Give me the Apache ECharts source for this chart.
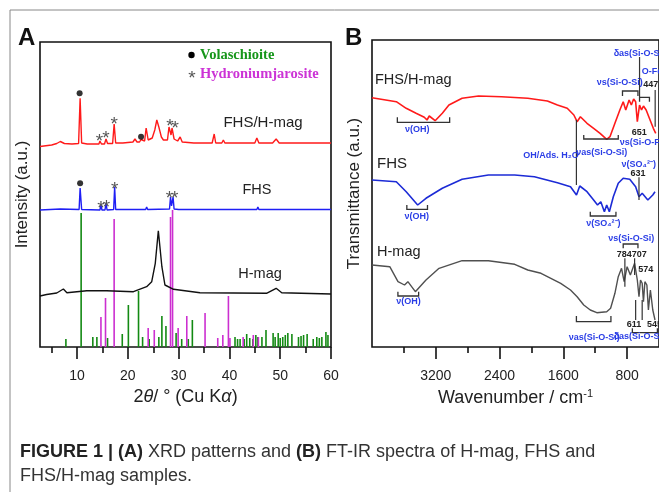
<!DOCTYPE html>
<html>
<head>
<meta charset="utf-8">
<script src="https://cdn.jsdelivr.net/npm/echarts@6/dist/echarts.min.js"></script>
<style>
  html, body { margin: 0; padding: 0; background: #fff; }
  #chart { width: 659px; height: 492px; }
</style>
</head>
<body>
<div id="chart"></div>
<script>
// ---- panel A : XRD (2theta, intensity a.u. incl. stacking offset) ----
var xrdFhsHmag = [[2.7,200.5],[5,202],[6,203.5],[6.7,205.5],[7.5,203.5],[9,203],[10.3,203.5],[10.6,248.7],[10.9,204],[12,203],
  [14.3,203],[14.5,206],[14.8,203],[15.4,203],[15.7,208],[16,203.5],[17,203.5],[17.3,223],[17.6,204],[19,204],[21,205],[21.4,208],
  [21.8,205],[22.3,205],[22.6,207.5],[22.9,205.5],[23.3,206],[23.6,219],[24,207],[24.8,209],[25.3,217],[25.7,227],[26.1,220],
  [26.6,210],[27,207],[27.8,207],[28.1,220],[28.3,221],[28.5,212],[28.7,219],[28.9,220],[29.1,208],[29.8,206],[30.3,210],[30.7,205],
  [33,204],[36.6,204],[37,213],[37.3,204],[38.5,204],[38.8,207],[39.1,204],[45,204],[45.4,209],[45.8,204],[48.5,204],[49.2,208],
  [49.8,204],[55,204],[60,204]];
var xrdFhs = [[2.7,137],[6.7,138],[10.4,137.5],[10.6,159],[10.9,137.5],[14.5,137],[14.7,142],[14.9,137],[15.5,137],[15.7,144],
  [15.9,137],[17.2,137.5],[17.4,160],[17.6,137.5],[23.5,137.5],[23.7,140],[23.9,137.5],[28.2,138],[28.4,150],[28.6,141],[28.9,150],
  [29.1,138],[30,137.5],[45.4,137.5],[45.6,140],[45.8,137.5],[49.5,137.5],[49.6,139],[49.7,137.5],[60,137.5]];
var xrdHmag = [[2.7,51],[4,52.5],[6,54],[7.3,58],[8,54.3],[11.9,56.3],[15.8,56.3],[21.1,55.3],[23.7,60.3],[24.7,65.3],[25.4,83.7],
  [26,116.3],[26.7,80.3],[27.3,62],[29,57.7],[34.2,54.3],[47.3,53.7],[49.2,58.7],[50.3,54.3],[60,53]];
var volaschioiteSticks = [[7.8,8],[10.8,134],[13.1,10],[13.9,10],[16,9],[18.9,13],[20.1,42],[22.1,56],[22.9,10],[24.2,8],[26.1,10],
  [26.7,31],[27.5,21],[29.5,14],[30.6,8],[31.9,8],[32.7,27],[41.1,10],[41.6,8],[42.1,8],[42.9,8],[43.4,13],[44,9],[44.6,8],[45.2,12],
  [45.6,10],[46.4,10],[47.2,17],[48.6,14],[49,10],[49.6,14],[50,9],[50.5,10],[51,12],[51.5,14],[52.3,13],[53.6,10],[54.1,11],
  [54.6,12],[55.3,13],[56.5,8],[57.2,10],[57.7,9],[58.2,10],[59,15],[59.4,12]];
var jarositeSticks = [[14.7,30],[15.6,49],[17.3,128],[24,19],[25.2,17],[28.4,130],[28.8,137],[29.9,19],[31.6,31],[35.2,34],
  [37.7,9],[38.7,12],[39.8,51],[40.1,9],[42.7,10],[44.7,12],[45.7,10]];
var dotMarks = [[10.5,253.7],[22.6,210.3],[10.6,163.7]];
var starMarks = [[14.4,210.3],[15.7,213],[17.3,227],[28.3,225.3],[29.3,223.7],[14.7,143.7],[15.8,144.7],[17.4,162],[28.2,153],[29.2,153]];
var xrdMajor = [10, 20, 30, 40, 50, 60];
var xrdMinor = [5, 15, 25, 35, 45, 55];

// ---- panel B : FT-IR (wavenumber, transmittance a.u. incl. offset) ----
var irFhsHmag = [[4000,249.3],[3695,245.3],[3571,238.7],[3447,233.7],[3344,229.7],[3310,227],[3282,231],[3208,226.3],[3118,233.7],
  [3035,242],[2870,248.7],[2664,251],[2376,250.3],[2046,248.7],[1800,246],[1674,242],[1551,238.7],[1468,232],[1427,225.3],[1386,230.3],
  [1303,223.7],[1220,218.7],[1139,213.7],[1056,207.7],[1015,210.3],[953,223.7],[891,237],[849,245.3],[817,237],[775,247],[747,242],
  [718,248],[693,245.3],[672,225.3],[644,242],[619,237],[595,241],[561,237],[512,227],[471,218.7],[441,213.7]];
var irFhs = [[4000,167],[3695,165.3],[3571,155.3],[3427,142],[3323,148.7],[3118,158.7],[2870,167.7],[2540,172],[2210,172],[1963,170.3],
  [1674,164.3],[1510,160.3],[1435,152],[1394,161],[1303,155.3],[1220,147],[1171,142],[1130,145.3],[1085,135.3],[1056,142],[1023,135.3],
  [973,150.3],[911,163.7],[849,168.7],[767,167.7],[693,160.3],[651,150.3],[611,153.7],[540,147],[478,152],[450,155.3]];
var irHmag = [[4000,82],[3777,80.3],[3674,65.3],[3592,62],[3550,65.3],[3456,55.3],[3323,67],[3159,78.7],[2870,86.3],[2540,86.3],
  [2210,82.7],[2046,77],[1880,73.7],[1633,63.7],[1510,57],[1427,50.3],[1344,42],[1262,37],[1180,34.3],[1056,35.3],[1007,38.7],
  [953,53.7],[911,70.3],[870,78.7],[837,65.3],[800,80.3],[759,72],[706,83.7],[672,67],[651,50.3],[632,67],[611,63.7],[595,45.3],
  [577,65.3],[552,62],[533,37],[508,57],[478,37],[450,27]];
var irMajor = [800, 1600, 2400, 3200];
var irMinor = [1200, 2000, 2800, 3600];
// brackets: [from, to, level, tip level]
var irBrackets = [[3682,3026,224.7,229.7],[1344,911,208,212],[858,664,256,251],[644,520,249.7,245.3],[3563,3304,137.7,142],
  [1262,940,131,135.3],[849,664,103,98.7],[734,420,14.3,18.7],[1436,1003,25.3,31],[3675,3415,51,55.3]];
// leader lines: [wavenumber, from, to]
var irLeaders = [[1436,227,162],[644,290,250],[448,257,220.3],[651,169.7,147],[828,88.7,60.3],[706,88.7,72],[693,47,27],[611,47,27]];
var irNoteText = ['ν(OH)','OH/Ads. H₂O','νas(Si-O-Si)','νs(Si-O-Fe','651','νs(Si-O-Si)','δas(Si-O-Si)','O-Fe','447',
  'ν(OH)','ν(SO₄²⁻)','ν(SO₄²⁻)','631','νs(Si-O-Si)','784707','574','611','545','νas(Si-O-Si)','δas(Si-O-Si)','ν(OH)'];
var irNoteAt = [[3431,217],[1755,191],[1118,194.7],[891,204.3],[648,214],[891,264.7],[969,293.7],[615,275.3],[598,262],
  [3440,130.3],[1097,123.7],[654,182],[664,173.7],[747,108.7],[741,92],[660,77],[714,22],[552,22],[1213,9.7],[969,10],[3542,45.3]];
var irNoteLeft = ['νs(Si-O-Fe','δas(Si-O-Si)','O-Fe','447','574','545'];

var SANS = 'Liberation Sans, Arial, sans-serif';
var BLUE_NOTE = '#2a3de6';
var chart = echarts.init(document.getElementById('chart'));

function stickSeries(data, color) {
    return {
        type: 'custom', xAxisIndex: 0, yAxisIndex: 0, data: data, z: 1,
        renderItem: function (params, api) {
            var p0 = api.coord([api.value(0), 0]);
            var p1 = api.coord([api.value(0), api.value(1)]);
            return {type: 'line', shape: {x1: p0[0], y1: p0[1], x2: p1[0], y2: p1[1]},
                style: {stroke: color, lineWidth: 1.6}};
        }
    };
}
function curve(data, color, xi, w) {
    return {type: 'line', xAxisIndex: xi, yAxisIndex: xi ? 1 : 0, data: data, showSymbol: false, z: 3,
        lineStyle: {color: color, width: w}, itemStyle: {color: color}, silent: true};
}
function xAxisOf(grid, min, max, ticks, len, labels, inv) {
    return {
        type: 'value', gridIndex: grid, min: min, max: max, inverse: !!inv, position: 'bottom',
        axisLine: {show: false}, splitLine: {show: false},
        axisTick: {show: true, length: len, customValues: ticks, lineStyle: {color: '#111', width: 1.6}},
        axisLabel: {show: labels, customValues: ticks, fontFamily: SANS, fontSize: 14, color: '#222', margin: 22,
            formatter: function (v) { return String(v); }}
    };
}

var xA = xAxisOf(0, 2.7, 60, xrdMajor, 12, true);
xA.name = '2{i|θ}/ ° (Cu K{i|α})';
xA.nameLocation = 'middle';
xA.nameGap = 41;
xA.nameTextStyle = {fontFamily: SANS, fontSize: 18, color: '#222', rich: {i: {fontFamily: SANS, fontSize: 18, fontStyle: 'italic', color: '#222'}}};
var xB = xAxisOf(1, 400, 4000, irMajor, 12, true, true);
xB.name = 'Wavenumber / cm{s|-1}';
xB.nameLocation = 'middle';
xB.nameGap = 41;
xB.nameTextStyle = {fontFamily: SANS, fontSize: 18, color: '#222', rich: {s: {fontFamily: SANS, fontSize: 11, color: '#222', padding: [0, 0, 9, 0]}}};

function yAxisOf(grid, max, name) {
    return {type: 'value', gridIndex: grid, min: 0, max: max, axisLine: {show: false}, axisTick: {show: false},
        axisLabel: {show: false}, splitLine: {show: false},
        name: name, nameLocation: 'middle', nameRotate: 90, nameGap: 9,
        nameTextStyle: {fontFamily: SANS, fontSize: 17, color: '#222'}};
}

var option = {
    backgroundColor: '#fff',
    animation: false,
    grid: [
        {left: 40, top: 42, width: 291, height: 305, show: true, borderColor: '#111', borderWidth: 1.6, containLabel: false},
        {left: 372, top: 40, width: 291, height: 307, show: true, borderColor: '#111', borderWidth: 1.6, containLabel: false}
    ],
    xAxis: [xA, xAxisOf(0, 2.7, 60, xrdMinor, 6, false), xB, xAxisOf(1, 400, 4000, irMinor, 6, false, true)],
    yAxis: [yAxisOf(0, 305, 'Intensity (a.u.)'), yAxisOf(1, 307, 'Transmittance (a.u.)')],
    series: [
        stickSeries(volaschioiteSticks, '#138a13'),
        stickSeries(jarositeSticks, '#cc2fd0'),
        curve(xrdHmag, '#111', 0, 1.4),
        curve(xrdFhs, '#1f1ff5', 0, 1.4),
        curve(xrdFhsHmag, '#ff1a1a', 0, 1.4),
        {type: 'scatter', xAxisIndex: 0, yAxisIndex: 0, data: dotMarks, symbol: 'circle', symbolSize: 6,
            itemStyle: {color: '#000'}, z: 4},
        {type: 'custom', xAxisIndex: 0, yAxisIndex: 0, data: starMarks, z: 4, clip: false,
            renderItem: function (params, api) {
                var p = api.coord([api.value(0), api.value(1)]);
                return {type: 'text', x: p[0], y: p[1] + 5, style: {text: '*', fill: '#555',
                    font: '19px ' + SANS, align: 'center', verticalAlign: 'middle'}};
            }},
        curve(irHmag, '#505050', 2, 1.4),
        curve(irFhs, '#1c2bd6', 2, 1.6),
        curve(irFhsHmag, '#ff1a1a', 2, 1.6),
        {type: 'custom', xAxisIndex: 2, yAxisIndex: 1, data: irBrackets, z: 5, clip: false,
            renderItem: function (params, api) {
                var a = api.coord([api.value(0), api.value(3)]);
                var b = api.coord([api.value(0), api.value(2)]);
                var c = api.coord([api.value(1), api.value(2)]);
                var d = api.coord([api.value(1), api.value(3)]);
                return {type: 'polyline', shape: {points: [a, b, c, d]}, style: {stroke: '#333', lineWidth: 1.3, fill: null}};
            }},
        {type: 'custom', xAxisIndex: 2, yAxisIndex: 1, data: irLeaders, z: 5, clip: false,
            renderItem: function (params, api) {
                var a = api.coord([api.value(0), api.value(1)]);
                var b = api.coord([api.value(0), api.value(2)]);
                return {type: 'line', shape: {x1: a[0], y1: a[1], x2: b[0], y2: b[1]}, style: {stroke: '#333', lineWidth: 1.2}};
            }},
        {type: 'custom', xAxisIndex: 2, yAxisIndex: 1, data: irNoteAt, z: 6, clip: false,
            renderItem: function (params, api) {
                var t = irNoteText[params.dataIndex];
                var p = api.coord([api.value(0), api.value(1)]);
                var isNum = /^[0-9]+$/.test(t);
                return {type: 'text', x: p[0], y: p[1], style: {
                    text: t, fill: isNum ? '#222' : BLUE_NOTE,
                    font: 'bold 9px ' + SANS,
                    align: irNoteLeft.indexOf(t) >= 0 ? 'left' : 'center', verticalAlign: 'middle'}};
            }}
    ],
    graphic: [
        {type: 'line', shape: {x1: 10, y1: 10, x2: 659, y2: 10}, style: {stroke: '#888', lineWidth: 1}},
        {type: 'line', shape: {x1: 10, y1: 10, x2: 10, y2: 492}, style: {stroke: '#888', lineWidth: 1}},
        {type: 'text', left: 18, top: 26, style: {text: 'A', font: 'bold 24px ' + SANS, fill: '#111'}},
        {type: 'text', left: 345, top: 26, style: {text: 'B', font: 'bold 24px ' + SANS, fill: '#111'}},
        {type: 'circle', shape: {cx: 191.5, cy: 55, r: 3.2}, style: {fill: '#000'}},
        {type: 'text', x: 200, y: 55, style: {text: 'Volaschioite', font: 'bold 14.5px Liberation Serif, serif', fill: '#16961a', verticalAlign: 'middle'}},
        {type: 'text', x: 192, y: 79, style: {text: '*', font: '19px ' + SANS, fill: '#555', align: 'center', verticalAlign: 'middle'}},
        {type: 'text', x: 200, y: 74, style: {text: 'Hydroniumjarosite', font: 'bold 14.5px Liberation Serif, serif', fill: '#cc33d6', verticalAlign: 'middle'}},
        {type: 'text', x: 263, y: 123, style: {text: 'FHS/H-mag', font: '15px ' + SANS, fill: '#222', align: 'center', verticalAlign: 'middle'}},
        {type: 'text', x: 257, y: 190, style: {text: 'FHS', font: '14.5px ' + SANS, fill: '#222', align: 'center', verticalAlign: 'middle'}},
        {type: 'text', x: 260, y: 274, style: {text: 'H-mag', font: '14.5px ' + SANS, fill: '#222', align: 'center', verticalAlign: 'middle'}},
        {type: 'text', x: 375, y: 80, style: {text: 'FHS/H-mag', font: '14.5px ' + SANS, fill: '#222', verticalAlign: 'middle'}},
        {type: 'text', x: 377, y: 164, style: {text: 'FHS', font: '15px ' + SANS, fill: '#222', verticalAlign: 'middle'}},
        {type: 'text', x: 377, y: 252, style: {text: 'H-mag', font: '14.5px ' + SANS, fill: '#222', verticalAlign: 'middle'}},
        {type: 'text', x: 20, y: 452, style: {
            text: '{b|FIGURE 1 | (A)} XRD patterns and {b|(B)} FT-IR spectra of H-mag, FHS and',
            font: '18px ' + SANS, fill: '#333', verticalAlign: 'middle',
            rich: {b: {fontFamily: SANS, fontSize: 18, fontWeight: 'bold', fill: '#222'}}}},
        {type: 'text', x: 20, y: 476, style: {text: 'FHS/H-mag samples.', font: '18px ' + SANS, fill: '#333', verticalAlign: 'middle'}}
    ]
};
chart.setOption(option);
</script>
</body>
</html>
